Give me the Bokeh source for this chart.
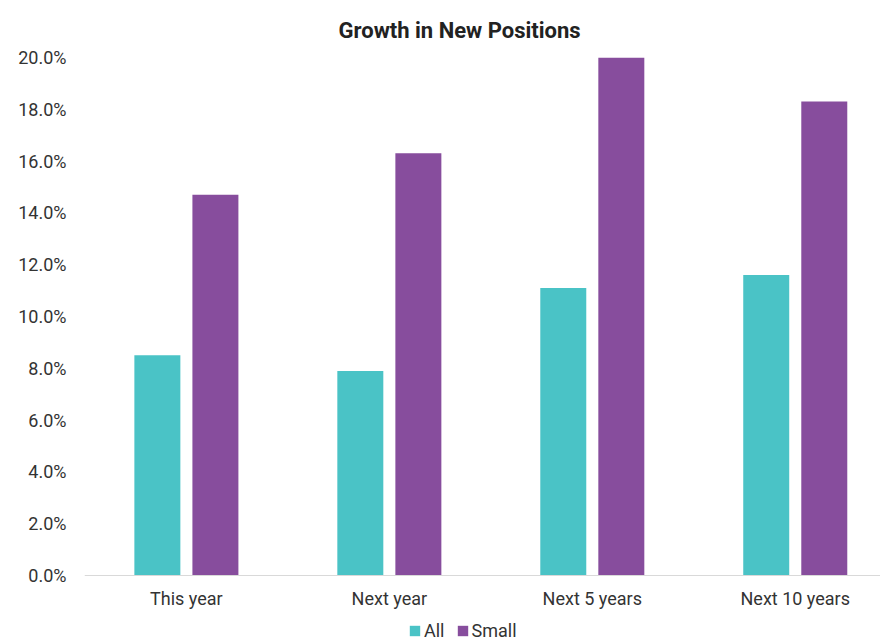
from bokeh.plotting import figure
from bokeh.models import (ColumnDataSource, Range1d, FixedTicker, PrintfTickFormatter,
                          Legend, LegendItem)
from bokeh.transform import dodge
from bokeh.embed import file_html
from bokeh.resources import INLINE

categories = ["This year", "Next year", "Next 5 years", "Next 10 years"]
all_values = [8.5, 7.9, 11.1, 11.6]
small_values = [14.7, 16.3, 20.0, 18.3]
y_ticks = [0, 2, 4, 6, 8, 10, 12, 14, 16, 18, 20]

TEAL = "#4ac3c6"
PURPLE = "#874d9d"
TEXT = "#333333"
FONT = "Roboto"

src = ColumnDataSource(dict(
    x=list(range(len(categories))),
    cat=categories,
    all=all_values,
    small=small_values,
))

p = figure(width=880, height=640, output_backend="svg", toolbar_location=None,
           x_range=Range1d(-0.502, 3.42), y_range=Range1d(-2.51, 20),
           min_border_left=84, min_border_right=0, min_border_top=57,
           min_border_bottom=0)

p.title.text = "Growth in New Positions"
p.title.text_font = FONT
p.title.text_font_size = "22px"
p.title.text_font_style = "bold"
p.title.text_color = "#222222"
p.title.align = "left"
p.title.offset = 254
p.title.standoff = 29

w = 0.2266
r_all = p.vbar(x=dodge("x", -0.143, range=p.x_range), top="all", width=w, source=src,
               fill_color=TEAL, line_color=None)
r_small = p.vbar(x=dodge("x", 0.143, range=p.x_range), top="small", width=w, source=src,
                 fill_color=PURPLE, line_color=None)

p.xgrid.visible = False
p.ygrid.visible = False
p.outline_line_color = None

p.xaxis.fixed_location = 0
p.xaxis.ticker = FixedTicker(ticks=list(range(len(categories))))
p.xaxis.major_label_overrides = {i: c for i, c in enumerate(categories)}
p.xaxis.axis_line_color = "#d9d9d9"
p.xaxis.major_tick_line_color = None
p.xaxis.major_tick_out = 0
p.xaxis.major_tick_in = 0
p.xaxis.minor_tick_line_color = None
p.xaxis.major_label_text_font = FONT
p.xaxis.major_label_text_font_size = "18px"
p.xaxis.major_label_text_color = TEXT
p.xaxis.major_label_standoff = 13

p.yaxis.ticker = FixedTicker(ticks=y_ticks)
p.yaxis.formatter = PrintfTickFormatter(format="%.1f%%")
p.yaxis.axis_line_color = None
p.yaxis.major_tick_line_color = None
p.yaxis.major_tick_out = 0
p.yaxis.major_tick_in = 0
p.yaxis.minor_tick_line_color = None
p.yaxis.major_label_text_font = FONT
p.yaxis.major_label_text_font_size = "18px"
p.yaxis.major_label_text_color = TEXT
p.yaxis.major_label_standoff = 18

legend = Legend(items=[LegendItem(label="All", renderers=[r_all]),
                       LegendItem(label="Small", renderers=[r_small])],
                orientation="horizontal", location=(324, -1),
                glyph_width=13, glyph_height=13, label_standoff=3, spacing=11,
                padding=0, margin=0, label_height=18,
                label_text_font=FONT, label_text_font_size="18px",
                label_text_color=TEXT, border_line_color=None,
                background_fill_alpha=0)
p.add_layout(legend, "center")

open("out.html", "w").write(file_html(p, INLINE))
